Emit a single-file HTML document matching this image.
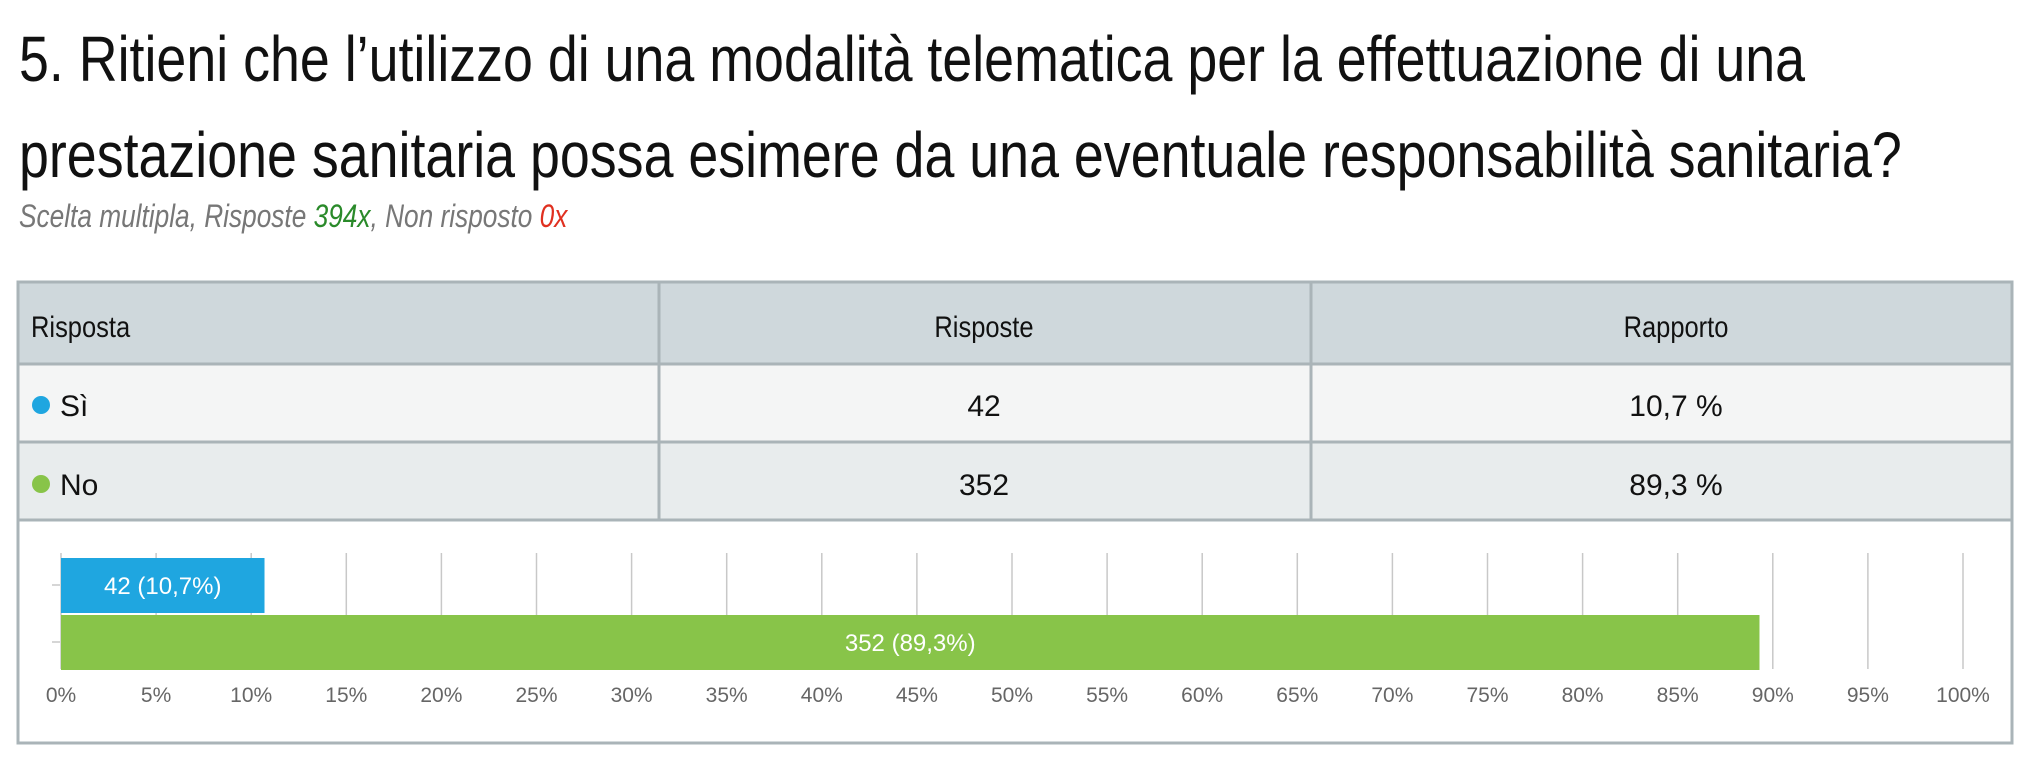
<!DOCTYPE html>
<html><head><meta charset="utf-8"><style>
body{margin:0;width:2025px;height:767px;background:#fff;overflow:hidden;font-family:"Liberation Sans",sans-serif;position:relative}
.t{position:absolute;white-space:nowrap;transform-origin:0 0}
</style></head><body>
<div class="t" style="left:19px;top:22px;font-size:64px;color:#111;transform:scaleX(0.84)">5. Ritieni che l’utilizzo di una modalità telematica per la effettuazione di una</div>
<div class="t" style="left:19px;top:118px;font-size:64px;color:#111;transform:scaleX(0.84)">prestazione sanitaria possa esimere da una eventuale responsabilità sanitaria?</div>
<div class="t" style="left:19px;top:198px;font-size:32px;font-style:italic;color:#777;transform:scaleX(0.82)">Scelta multipla, Risposte <span style="color:#2a8a2a">394x</span>, Non risposto <span style="color:#e03020">0x</span></div>
<svg width="2025" height="767" style="position:absolute;left:0;top:0">
<rect x="18" y="282" width="1994" height="461" fill="#fff" stroke="#aab4b8" stroke-width="3"/>
<rect x="19.5" y="283.5" width="1991" height="80" fill="#cfd8dc"/>
<rect x="19.5" y="365" width="1991" height="76" fill="#f4f5f5"/>
<rect x="19.5" y="443" width="1991" height="76" fill="#e8eced"/>
<g stroke="#aab4b8" stroke-width="3">
<line x1="18" y1="364" x2="2012" y2="364"/><line x1="18" y1="442" x2="2012" y2="442"/><line x1="18" y1="520" x2="2012" y2="520"/>
<line x1="659" y1="282" x2="659" y2="520"/><line x1="1311" y1="282" x2="1311" y2="520"/>
</g>
<g font-family="Liberation Sans, sans-serif" font-size="30" fill="#111">
<text x="31" y="337" transform="translate(31 0) scale(0.85 1) translate(-31 0)">Risposta</text>
<text x="984" y="337" text-anchor="middle" transform="translate(984 0) scale(0.85 1) translate(-984 0)">Risposte</text>
<text x="1676" y="337" text-anchor="middle" transform="translate(1676 0) scale(0.85 1) translate(-1676 0)">Rapporto</text>
<circle cx="41" cy="405" r="9" fill="#1fa6e0"/>
<text x="60" y="416">Sì</text>
<text x="984" y="416" text-anchor="middle">42</text>
<text x="1676" y="416" text-anchor="middle">10,7 %</text>
<circle cx="41" cy="484" r="9" fill="#88c449"/>
<text x="60" y="495">No</text>
<text x="984" y="495" text-anchor="middle">352</text>
<text x="1676" y="495" text-anchor="middle">89,3 %</text>
</g>
<g id="chart"></g>
</svg>
<script>
const categories=["Sì","No"];
const counts=[42,352];
const percents=[10.7,89.3];
const tickValues=[0,5,10,15,20,25,30,35,40,45,50,55,60,65,70,75,80,85,90,95,100];
const colors=["#1fa6e0","#88c449"];
const NS="http://www.w3.org/2000/svg";
const g=document.getElementById('chart');
const x0=61,x1=1963,gTop=553,gBot=669;
function xs(v){return x0+(x1-x0)*v/100;}
const bandTop=558,bandH=57;
function ys(i){return bandTop+i*bandH;}
function mk(t,a){const e=document.createElementNS(NS,t);for(const k in a)e.setAttribute(k,a[k]);g.appendChild(e);return e;}
tickValues.forEach(v=>{
 const l=mk('line',{x1:xs(v),x2:xs(v),y1:gTop,y2:gBot,stroke:'#c8c8c8','stroke-width':1.5});
 
 
 const t=mk('text',{x:xs(v),y:702,'text-anchor':'middle','font-size':21,fill:'#666','font-family':'Liberation Sans, sans-serif'});
 t.textContent=v+'%';
 
 
});
categories.forEach((c,i)=>{
 const y=ys(i);
 mk('line',{x1:52,x2:60,y1:y+27,y2:y+27,stroke:'#c8c8c8','stroke-width':1.5});
 const r=mk('rect',{x:x0,y:y,width:xs(percents[i])-x0,height:55,fill:colors[i]});
 
 
 const t=mk('text',{x:(x0+xs(percents[i]))/2,y:y+36,'text-anchor':'middle','font-size':24,fill:'#fff','font-family':'Liberation Sans, sans-serif'});
 t.textContent=counts[i]+' ('+String(percents[i]).replace('.',',')+'%)';
 
 
});
</script>
</body></html>
